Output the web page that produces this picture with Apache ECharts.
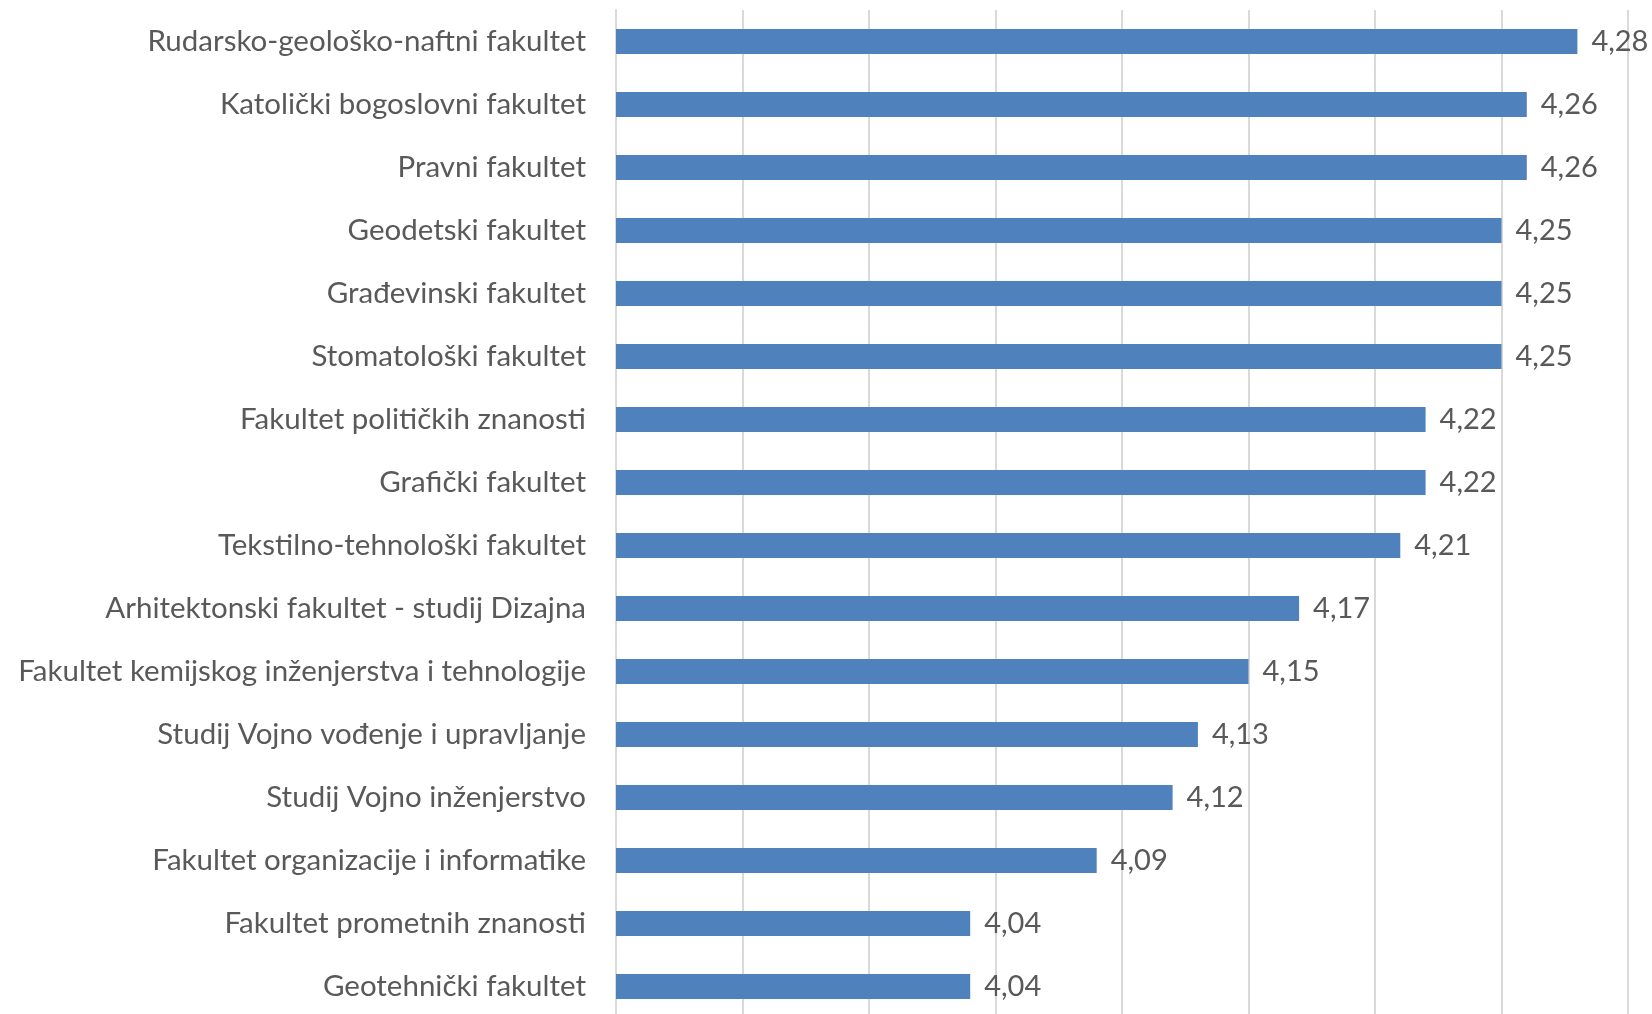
<!DOCTYPE html>
<html>
<head>
<meta charset="utf-8">
<script src="https://cdn.jsdelivr.net/npm/echarts@6/dist/echarts.min.js"></script>
<style>
  html, body { margin: 0; padding: 0; background: #fff; }
  #chart { width: 1652px; height: 1014px; }
</style>
</head>
<body>
<div id="chart"></div>
<script>
// faculties, top to bottom as shown
var faculties = [
  'Rudarsko-geološko-naftni fakultet',
  'Katolički bogoslovni fakultet',
  'Pravni fakultet',
  'Geodetski fakultet',
  'Građevinski fakultet',
  'Stomatološki fakultet',
  'Fakultet političkih znanosti',
  'Grafički fakultet',
  'Tekstilno-tehnološki fakultet',
  'Arhitektonski fakultet - studij Dizajna',
  'Fakultet kemijskog inženjerstva i tehnologije',
  'Studij Vojno vođenje i upravljanje',
  'Studij Vojno inženjerstvo',
  'Fakultet organizacije i informatike',
  'Fakultet prometnih znanosti',
  'Geotehnički fakultet'
]
var scores = [4.28, 4.26, 4.26, 4.25, 4.25, 4.25, 4.22, 4.22, 4.21, 4.17, 4.15, 4.13, 4.12, 4.09, 4.04, 4.04]

var textColor = '#595959'
var gridColor = '#d9d9d9'

var chart = echarts.init(document.getElementById('chart'))
chart.setOption({
  animation: false,
  grid: {
    left: 616,
    right: 24,
    top: 10,
    height: 1008,
    outerBoundsMode: 'none'
  },
  xAxis: {
    type: 'value',
    min: 3.9,
    max: 4.3,
    interval: 0.05,
    axisLabel: { show: false },
    axisTick: { show: false },
    axisLine: { show: false },
    splitLine: {
      lineStyle: { color: gridColor, width: 2 }
    }
  },
  yAxis: {
    type: 'category',
    inverse: true,
    data: faculties,
    axisTick: { show: false },
    axisLine: {
      lineStyle: { color: gridColor, width: 2 }
    },
    axisLabel: {
      color: textColor,
      fontFamily: 'Lato',
      fontSize: 29.5,
      margin: 30
    }
  },
  series: [{
    type: 'bar',
    data: scores,
    barWidth: 25,
    itemStyle: { color: '#4f81bd' },
    label: {
      show: true,
      position: 'right',
      distance: 14,
      color: textColor,
      fontFamily: 'Lato',
      fontSize: 29,
      formatter: function (p) {
        return p.value.toFixed(2).replace('.', ',')
      }
    }
  }]
})
</script>
</body>
</html>
